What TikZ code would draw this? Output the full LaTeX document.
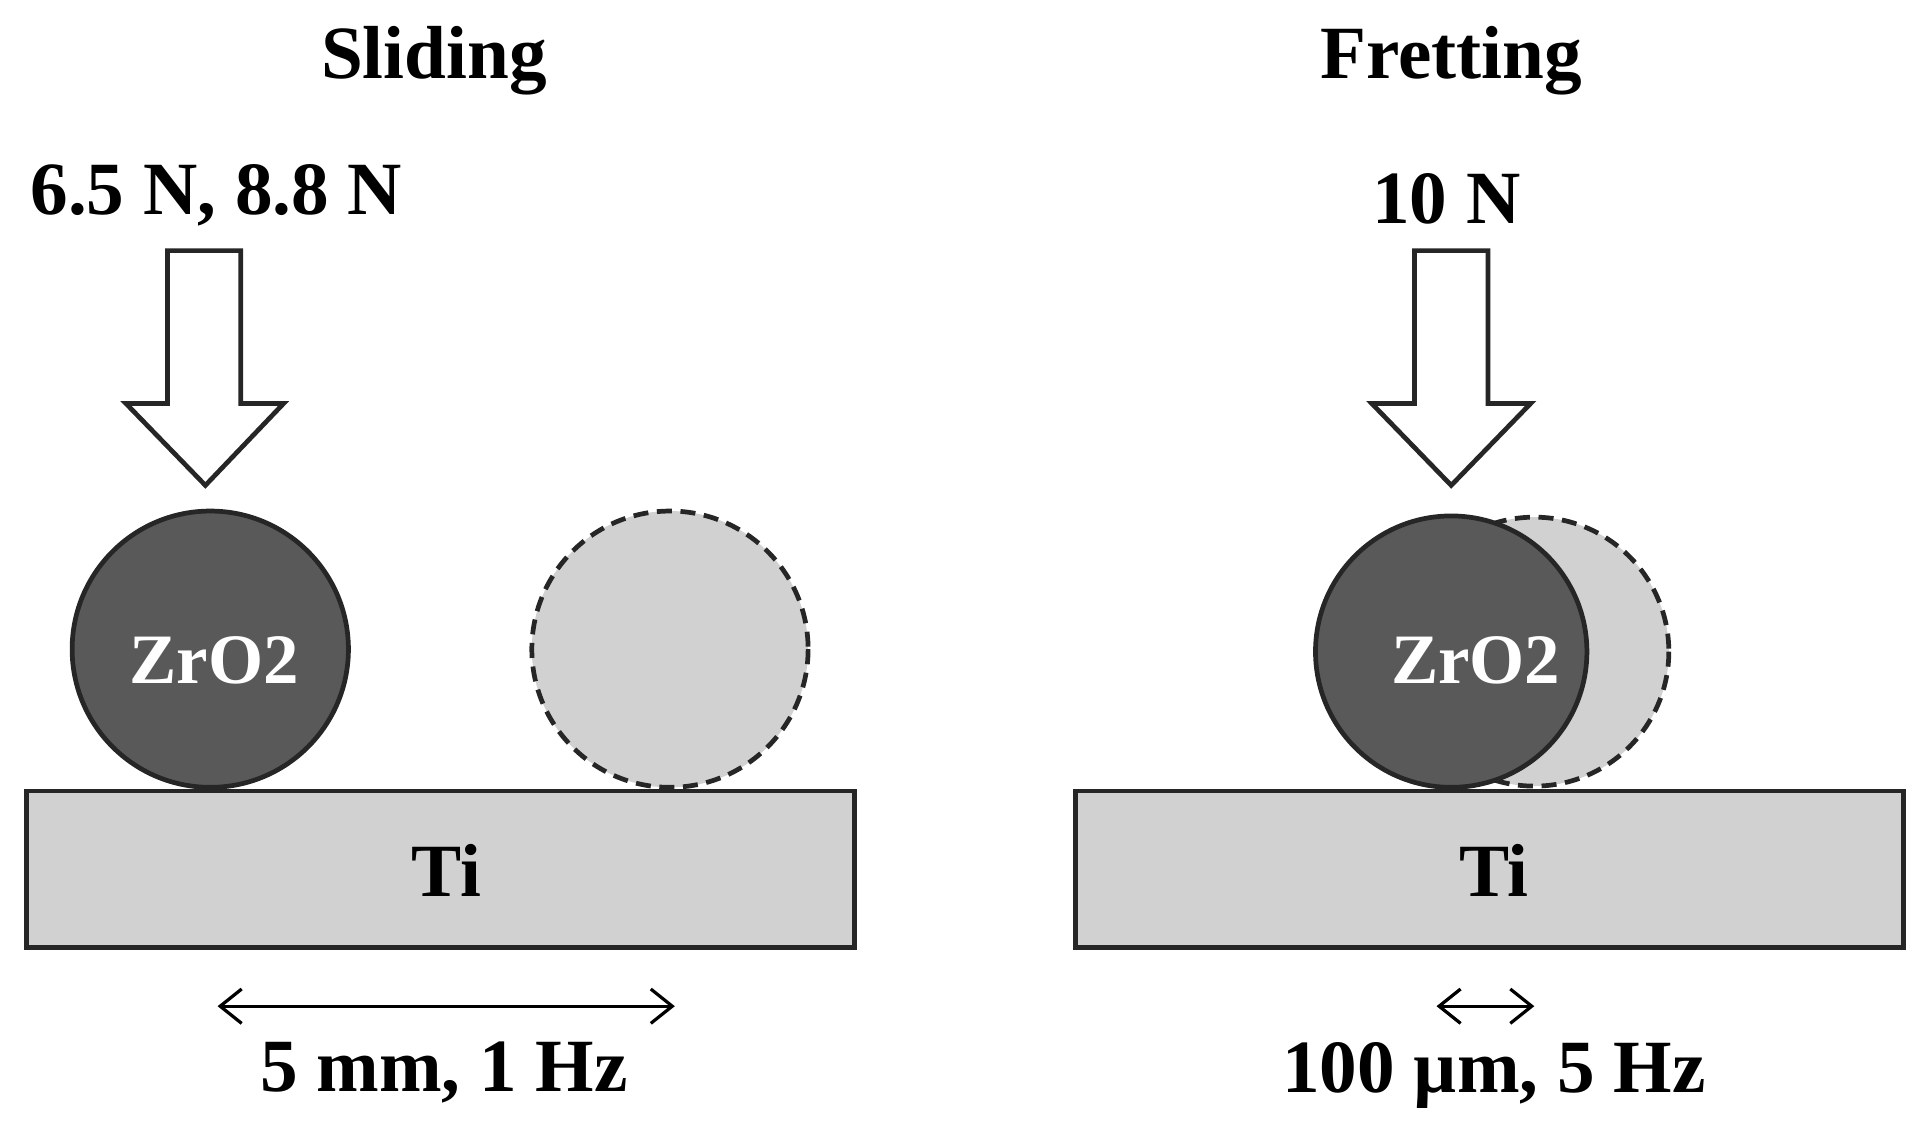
\documentclass[tikz,border=0pt]{standalone}
\usepackage{fontspec}
\setmainfont{Liberation Serif}
\usetikzlibrary{arrows.meta}
\begin{document}
\begin{tikzpicture}[x=0.02cm,y=-0.02cm,
  lbl/.style={font=\bfseries\fontsize{33}{38}\selectfont},
  big/.style={font=\bfseries\fontsize{35}{40}\selectfont},
  ball/.style={draw=black!85,line width=2.2pt,fill=black!65},
  ghost/.style={draw=black!85,line width=2.2pt,dash pattern=on 7pt off 4pt,fill=black!18},
  block/.style={draw=black!85,line width=2.2pt,fill=black!18},
  bigarrow/.style={draw=black!85,line width=2.2pt,fill=white},
  dbl/.style={{Straight Barb[length=10pt,width=16pt]}-{Straight Barb[length=10pt,width=16pt]},line width=1.5pt}]
\useasboundingbox (0,0) rectangle (1568,920);
\node[big] (t1) at (355,50) {Sliding};
\node[big] (t2) at (1187,50) {Fretting};
\node[big] (f1) at (177,160) {6.5 N, 8.8 N};
\node[big] (f2) at (1183,163) {10 N};
\draw[bigarrow] (137,205) -- (197,205) -- (197,330) -- (232,330) -- (168,397) -- (103,330) -- (137,330) -- cycle;
\draw[bigarrow] (1157,205) -- (1217,205) -- (1217,330) -- (1252,330) -- (1187,397) -- (1122,330) -- (1157,330) -- cycle;
\node[block,minimum width=677*0.02cm,minimum height=128*0.02cm,anchor=north west,inner sep=0] (r1) at (20,645) {};
\node[block,minimum width=677*0.02cm,minimum height=128*0.02cm,anchor=north west,inner sep=0] (r2) at (878,645) {};
\node[big] (ti1) at (365,712) {Ti};
\node[big] (ti2) at (1222,712) {Ti};
\draw[ghost] (548,531) circle (113);
\draw[ball] (172,531) circle (113);
\draw[ghost] (1255,533) circle (110);
\draw[ball] (1187,533) circle (111);
\node[lbl,text=white] (z1) at (175,540) {ZrO2};
\node[lbl,text=white] (z2) at (1207,540) {ZrO2};
\coordinate (a1) at (178,823); \coordinate (b1) at (552,823);
\coordinate (a2) at (1175,823); \coordinate (b2) at (1255,823);
\draw[dbl] (a1) -- (b1);
\draw[dbl] (a2) -- (b2);
\node[big] (d1) at (363,877) {5 mm, 1 Hz};
\node[big] (d2) at (1222,880) {100 µm, 5 Hz};
\end{tikzpicture}
\end{document}
